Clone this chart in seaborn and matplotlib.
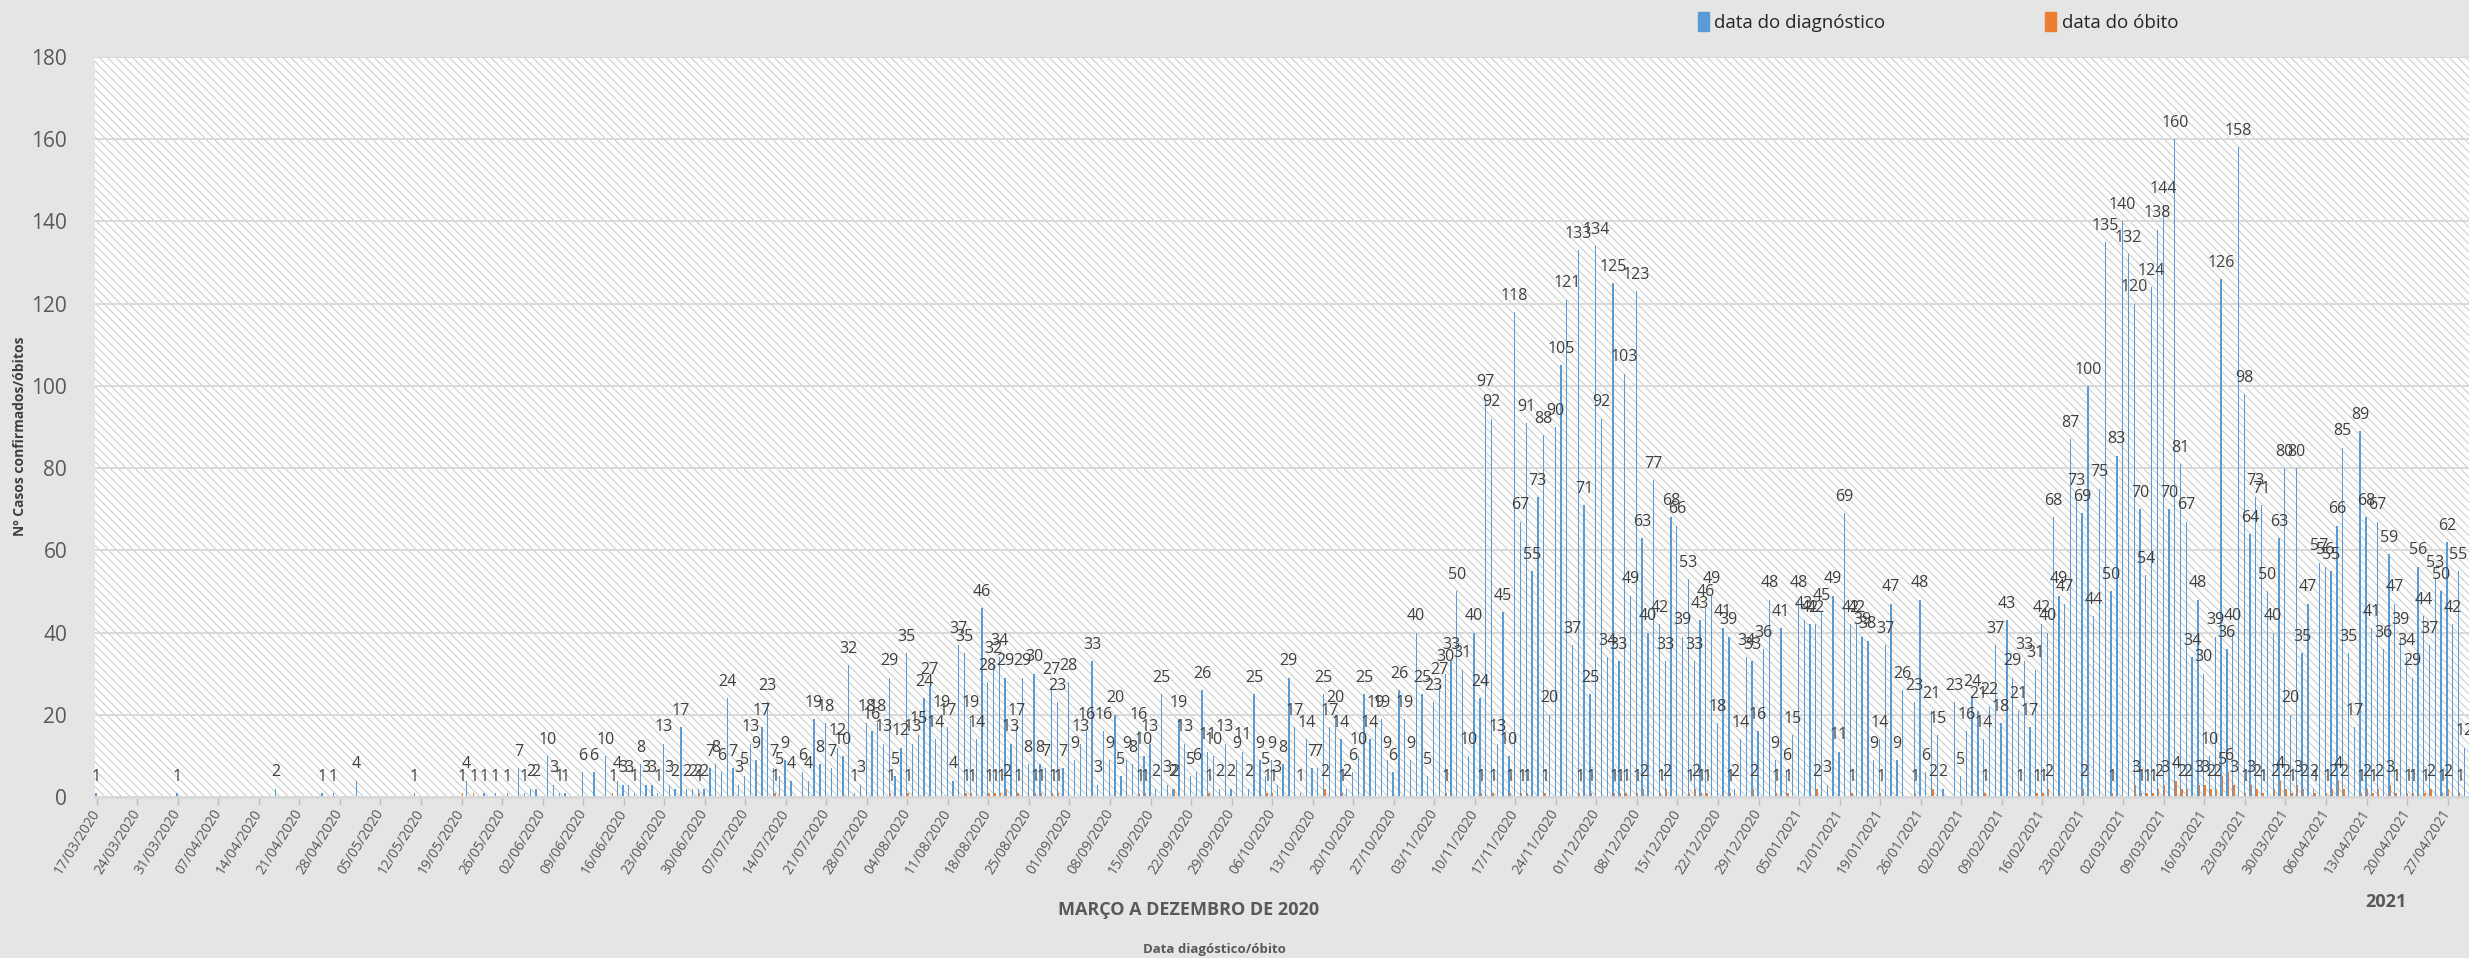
import numpy as np
import pandas as pd
import matplotlib
matplotlib.use("Agg")
import matplotlib.pyplot as plt
import seaborn as sns
from matplotlib.patches import Rectangle, Patch

# ---------------- data (one value per day, from 17/03/2020) ----------------
inicio = "2020-03-17"

diagnostico = [
    1, 0, 0, 0, 0, 0, 0,
    0, 0, 0, 0, 0, 0, 0,
    1, 0, 0, 0, 0, 0, 0,
    0, 0, 0, 0, 0, 0, 0,
    0, 0, 0, 2, 0, 0, 0,
    0, 0, 0, 0, 1, 0, 1,
    0, 0, 0, 4, 0, 0, 0,
    0, 0, 0, 0, 0, 0, 1,
    0, 0, 0, 0, 0, 0, 0,
    0, 4, 0, 0, 1, 0, 1,
    0, 1, 0, 7, 1, 2, 2,
    0, 10, 3, 1, 1, 0, 0,
    6, 0, 6, 0, 10, 0, 4,
    3, 3, 1, 8, 3, 3, 1,
    13, 3, 2, 17, 2, 2, 2,
    2, 7, 8, 6, 24, 7, 3,
    5, 13, 9, 17, 23, 7, 5,
    9, 4, 0, 6, 4, 19, 8,
    18, 7, 12, 10, 32, 1, 3,
    18, 16, 18, 13, 29, 5, 12,
    35, 13, 15, 24, 27, 14, 19,
    17, 4, 37, 35, 19, 14, 46,
    28, 32, 34, 29, 13, 17, 29,
    8, 30, 8, 7, 27, 23, 7,
    28, 9, 13, 16, 33, 3, 16,
    9, 20, 5, 9, 8, 16, 10,
    13, 2, 25, 3, 2, 19, 13,
    5, 6, 26, 11, 10, 2, 13,
    2, 9, 11, 2, 25, 9, 5,
    9, 3, 8, 29, 17, 1, 14,
    7, 7, 25, 17, 20, 14, 2,
    6, 10, 25, 14, 19, 19, 9,
    6, 26, 19, 9, 40, 25, 5,
    23, 27, 30, 33, 50, 31, 10,
    40, 24, 97, 92, 13, 45, 10,
    118, 67, 91, 55, 73, 88, 20,
    90, 105, 121, 37, 133, 71, 25,
    134, 92, 34, 125, 33, 103, 49,
    123, 63, 40, 77, 42, 33, 68,
    66, 39, 53, 33, 43, 46, 49,
    18, 41, 39, 2, 14, 34, 33,
    16, 36, 48, 9, 41, 6, 15,
    48, 43, 42, 42, 45, 3, 49,
    11, 69, 42, 42, 39, 38, 9,
    14, 37, 47, 9, 26, 0, 23,
    48, 6, 21, 15, 2, 0, 23,
    5, 16, 24, 21, 14, 22, 37,
    18, 43, 29, 21, 33, 17, 31,
    42, 40, 68, 49, 47, 87, 73,
    69, 100, 44, 75, 135, 50, 83,
    140, 132, 120, 70, 54, 124, 138,
    144, 70, 160, 81, 67, 34, 48,
    30, 10, 39, 126, 36, 40, 158,
    98, 64, 73, 71, 50, 40, 63,
    80, 20, 80, 35, 47, 2, 57,
    56, 55, 66, 85, 35, 17, 89,
    68, 41, 67, 36, 59, 47, 39,
    34, 29, 56, 44, 37, 53, 50,
    62, 42, 55, 12,
]

obito = [
    0, 0, 0, 0, 0, 0, 0,
    0, 0, 0, 0, 0, 0, 0,
    0, 0, 0, 0, 0, 0, 0,
    0, 0, 0, 0, 0, 0, 0,
    0, 0, 0, 0, 0, 0, 0,
    0, 0, 0, 0, 0, 0, 0,
    0, 0, 0, 0, 0, 0, 0,
    0, 0, 0, 0, 0, 0, 0,
    0, 0, 0, 0, 0, 0, 0,
    1, 0, 1, 0, 0, 0, 0,
    0, 0, 0, 0, 0, 0, 0,
    0, 0, 0, 0, 0, 0, 0,
    0, 0, 0, 0, 0, 1, 0,
    0, 0, 0, 0, 0, 0, 0,
    0, 0, 0, 0, 0, 0, 1,
    0, 0, 0, 0, 0, 0, 0,
    0, 0, 0, 0, 0, 1, 0,
    0, 0, 0, 0, 0, 0, 0,
    0, 0, 0, 0, 0, 0, 0,
    0, 0, 0, 0, 1, 0, 0,
    1, 0, 0, 0, 0, 0, 0,
    0, 0, 0, 1, 1, 0, 0,
    1, 1, 1, 2, 0, 1, 0,
    0, 1, 1, 0, 1, 1, 0,
    0, 0, 0, 0, 0, 0, 0,
    0, 0, 0, 0, 0, 1, 1,
    0, 0, 0, 0, 2, 0, 0,
    0, 0, 0, 1, 0, 0, 0,
    0, 0, 0, 0, 0, 0, 1,
    1, 0, 0, 0, 0, 0, 0,
    0, 0, 2, 0, 0, 1, 0,
    0, 0, 0, 0, 0, 0, 0,
    0, 0, 0, 0, 0, 0, 0,
    0, 0, 1, 0, 0, 0, 0,
    0, 1, 0, 1, 0, 0, 1,
    0, 1, 1, 0, 0, 1, 0,
    0, 0, 0, 0, 1, 0, 1,
    0, 0, 0, 1, 1, 1, 0,
    1, 2, 0, 0, 1, 2, 0,
    0, 0, 1, 2, 1, 1, 0,
    0, 0, 1, 0, 0, 0, 2,
    0, 0, 0, 1, 0, 1, 0,
    0, 0, 0, 2, 0, 0, 0,
    0, 0, 1, 0, 0, 0, 0,
    1, 0, 0, 0, 0, 0, 1,
    0, 0, 2, 0, 0, 0, 0,
    0, 0, 0, 0, 1, 0, 0,
    0, 0, 0, 1, 0, 0, 1,
    1, 2, 0, 0, 0, 0, 0,
    2, 0, 0, 0, 0, 1, 0,
    0, 0, 3, 1, 1, 1, 2,
    3, 0, 4, 2, 2, 0, 3,
    3, 2, 2, 5, 6, 3, 0,
    1, 3, 2, 1, 0, 2, 4,
    2, 1, 3, 2, 0, 1, 0,
    1, 2, 4, 2, 0, 0, 1,
    2, 1, 2, 0, 3, 1, 0,
    1, 1, 0, 1, 2, 0, 1,
    2, 0, 1, 0,
]

series = ["data do diagnóstico", "data do óbito"]
cores = ["#5B9BD5", "#ED7D31"]
y_ticks = list(range(0, 181, 20))

n = len(diagnostico)
datas = pd.date_range(inicio, periods=n, freq="D")
rotulos = list(datas.strftime("%d/%m/%Y"))

df = pd.DataFrame({
    "dia": np.tile(np.arange(n), 2),
    "serie": np.repeat(series, n),
    "casos": diagnostico + obito,
})

# ---------------- style ----------------
sns.set_theme(style="white")
plt.rcParams["font.family"] = ["Open Sans", "DejaVu Sans"]
plt.rcParams["hatch.color"] = "#C8C8C8"
plt.rcParams["hatch.linewidth"] = 0.7

W, H = 2469, 958
fig = plt.figure(figsize=(W / 100, H / 100), dpi=100, facecolor="#E5E5E5")
ax = fig.add_axes([95 / W, 1 - 797 / H, 1 - 95 / W, (797 - 57) / H])
ax.set_facecolor("white")
ax.add_patch(Rectangle((0, 0), 1, 1, transform=ax.transAxes, facecolor="white",
                       edgecolor="#C8C8C8", hatch="\\" * 4, lw=0, zorder=-2))

sns.barplot(data=df, x="dia", y="casos", hue="serie", hue_order=series,
            palette=cores, width=0.46, saturation=1, errorbar=None,
            legend=False, ax=ax, linewidth=0)

for c in ax.containers:
    labs = [f"{v:g}" if v > 0 else "" for v in c.datavalues]
    ax.bar_label(c, labels=labs, padding=6, fontsize=11.5, color="#404040")

ax.set_ylim(0, 180)
ax.set_yticks(y_ticks)
ax.set_xlim(-0.3, n - 0.3)
ax.set_axisbelow(True)
ax.yaxis.grid(True, color="#D9D9D9", lw=1.4)
ax.xaxis.grid(False)
for s in ["left", "right", "top"]:
    ax.spines[s].set_visible(False)
ax.spines["bottom"].set_color("#D9D9D9")
ax.spines["bottom"].set_linewidth(2)

ax.set_xticks(range(0, n, 7))
ax.set_xticklabels(rotulos[::7], rotation=58, ha="right", va="center",
                   rotation_mode="anchor", fontsize=10, color="#595959")
ax.tick_params(axis="x", bottom=True, length=6, width=1, color="#BFBFBF", pad=4)
ax.tick_params(axis="y", left=False, length=0, pad=20, labelsize=15, labelcolor="#595959")
ax.set_xlabel("")
ax.set_ylabel("")

leg = ax.legend(handles=[Patch(color=c) for c in cores], labels=series,
                loc="center", bbox_to_anchor=(1938 / W, 1 - 22 / H),
                bbox_transform=fig.transFigure, ncol=2, frameon=False,
                fontsize=13.5, handlelength=0.6, handleheight=1.2,
                handletextpad=0.3, columnspacing=8.5)
for t in leg.get_texts():
    t.set_color("#262626")

fig.text(1189 / W, 1 - 910 / H, "MARÇO A DEZEMBRO DE 2020", ha="center", va="center",
         fontsize=13, fontweight="bold", color="#595959")
fig.text(2386 / W, 1 - 902 / H, "2021", ha="center", va="center",
         fontsize=13, fontweight="bold", color="#595959")
fig.text(1214 / W, 1 - 950 / H, "Data diagóstico/óbito", ha="center", va="center",
         fontsize=9.5, fontweight="bold", color="#595959")
fig.text(20 / W, 1 - 436 / H, "Nº Casos confirmados/óbitos", ha="center", va="center",
         rotation=90, fontsize=10, fontweight="bold", color="#404040")

fig.savefig("out.png", dpi=100, facecolor=fig.get_facecolor())
